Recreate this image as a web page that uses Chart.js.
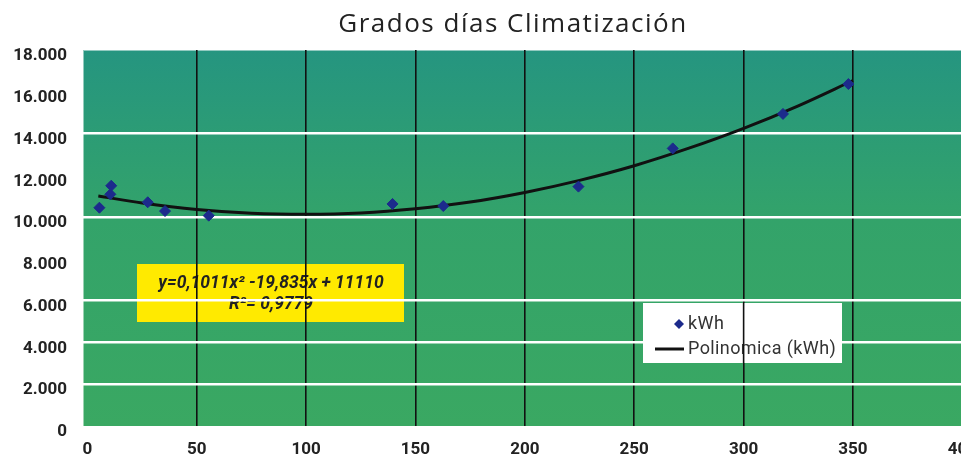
<!DOCTYPE html>
<html>
<head>
<meta charset="utf-8">
<script src="https://cdn.jsdelivr.net/npm/chart.js@4.4.1/dist/chart.umd.min.js"></script>
<style>
  html, body { margin: 0; padding: 0; background: #fff; overflow: hidden; }
  #wrap { width: 991px; height: 456px; }
</style>
</head>
<body>
<div id="wrap"><canvas id="gradosChart" width="991" height="456"></canvas></div>
<script>
// Puntos medidos (grados día vs kWh)
const kwhX = [5.5, 10.5, 10.9, 27.6, 35.5, 55.5, 139.5, 162.7, 224.5, 267.6, 318, 347.9];
const kwhY = [10450, 11090, 11500, 10710, 10290, 10070, 10630, 10530, 11460, 13290, 14940, 16370];

// Línea de tendencia polinómica
const trendX = [5, 25, 50, 75, 100, 125, 150, 175, 200, 225, 250, 275, 300, 325, 350];
const trendY = [11010, 10680, 10370, 10190, 10140, 10200, 10400, 10720, 11180, 11760, 12460, 13300, 14250, 15330, 16540];

// Marcas de los ejes
const xTicks = [0, 50, 100, 150, 200, 250, 300, 350, 400];
// Líneas horizontales blancas visibles
const whiteGridValues = [2000, 4000, 6000, 10000, 14000];

const titleText = 'Grados días Climatización';
const equationLines = ['y=0,1011x² -19,835x + 11110', 'R²= 0,9779'];
const legendLabels = ['kWh', 'Polinomica (kWh)'];

const fmt = v => v.toLocaleString('de-DE');
const labelFont = 'bold 17px Roboto';
const legendBox = { x: 643, y: 303, w: 199, h: 60 };

// Fondo degradado y recuadro amarillo (debajo de la cuadrícula)
const backgroundPlugin = {
    id: 'backgroundPlugin',
    beforeDraw(chart) {
        const { ctx, chartArea: a } = chart;
        ctx.save();
        const g = ctx.createLinearGradient(0, a.top, 0, a.bottom);
        g.addColorStop(0, '#259580');
        g.addColorStop(0.45, '#33a36a');
        g.addColorStop(1, '#3aa862');
        ctx.fillStyle = g;
        ctx.fillRect(a.left, a.top, a.right - a.left, a.bottom - a.top);
        ctx.strokeStyle = 'rgba(255,255,255,0.5)';
        ctx.lineWidth = 1;
        ctx.strokeRect(a.left + 0.5, a.top + 0.5, a.right - a.left, a.bottom - a.top);

        // Ecuación
        ctx.fillStyle = '#ffea00';
        ctx.fillRect(137, 264, 267, 58);
        ctx.fillStyle = '#222';
        ctx.font = 'italic bold 17.5px Roboto';
        ctx.textAlign = 'center';
        ctx.textBaseline = 'middle';
        ctx.fillText(equationLines[0], 271, 284);
        ctx.fillText(equationLines[1], 271, 305);
        ctx.restore();
    },
    // Leyenda: encima de las líneas blancas, debajo de las verticales negras
    beforeDatasetsDraw(chart) {
        const { ctx } = chart;
        const b = legendBox;
        ctx.save();
        ctx.fillStyle = '#fff';
        ctx.fillRect(b.x, b.y, b.w, b.h);
        ctx.fillStyle = '#1c2a8c';
        ctx.beginPath();
        ctx.moveTo(679, 319); ctx.lineTo(684, 324); ctx.lineTo(679, 329); ctx.lineTo(674, 324);
        ctx.closePath();
        ctx.fill();
        ctx.strokeStyle = '#111';
        ctx.lineWidth = 3;
        ctx.beginPath();
        ctx.moveTo(655, 349); ctx.lineTo(684, 349);
        ctx.stroke();
        ctx.fillStyle = '#333';
        ctx.font = '18px Roboto';
        ctx.letterSpacing = '0.4px';
        ctx.textAlign = 'left';
        ctx.textBaseline = 'middle';
        ctx.fillText(legendLabels[0], 688, 324);
        ctx.fillText(legendLabels[1], 688, 349);
        // rejilla vertical por encima de la leyenda
        const xs = chart.scales.x;
        ctx.strokeStyle = '#111';
        ctx.lineWidth = 1.6;
        xs.ticks.forEach(t => {
            const px = xs.getPixelForValue(t.value);
            if (t.value > 0 && px > b.x && px < b.x + b.w) {
                ctx.beginPath();
                ctx.moveTo(px, b.y);
                ctx.lineTo(px, b.y + b.h);
                ctx.stroke();
            }
        });
        ctx.restore();
    },
    afterDraw(chart) {
        const { ctx } = chart;
        const ys = chart.scales.y;
        ctx.save();
        // Etiquetas del eje Y (algo por debajo de cada línea, como en el original)
        ctx.fillStyle = '#222';
        ctx.font = labelFont;
        ctx.textAlign = 'right';
        ctx.textBaseline = 'middle';
        ys.ticks.forEach(t => {
            ctx.fillText(fmt(t.value), 67, ys.getPixelForValue(t.value) + 6);
        });

        // Título
        ctx.font = '26px "Open Sans"';
        ctx.letterSpacing = '1.5px';
        ctx.textAlign = 'center';
        ctx.fillText(titleText, 513, 25);
        ctx.restore();
    }
};

new Chart(document.getElementById('gradosChart'), {
    type: 'scatter',
    data: {
        datasets: [{
            label: legendLabels[0],
            data: kwhX.map((x, i) => ({ x: x, y: kwhY[i] })),
            backgroundColor: '#1c2a8c',
            borderColor: '#1c2a8c',
            pointStyle: 'rectRot',
            pointRadius: 5.5,
            pointHoverRadius: 5.5
        }, {
            label: legendLabels[1],
            type: 'line',
            data: trendX.map((x, i) => ({ x: x, y: trendY[i] })),
            borderColor: '#111',
            borderWidth: 3,
            pointRadius: 0,
            cubicInterpolationMode: 'monotone',
            fill: false
        }]
    },
    options: {
        responsive: false,
        animation: false,
        layout: { padding: { top: 50, left: 0, right: 0, bottom: 0 } },
        plugins: {
            legend: { display: false },
            title: { display: false },
            tooltip: { enabled: false }
        },
        scales: {
            x: {
                type: 'linear',
                min: -2,
                max: 400,
                border: { display: false },
                afterFit(scale) { scale.height = 30; },
                afterBuildTicks(scale) { scale.ticks = xTicks.map(v => ({ value: v })); },
                grid: {
                    drawTicks: false,
                    lineWidth: 1.6,
                    color: ctx => (ctx.tick && ctx.tick.value > 0 && ctx.tick.value < 400) ? '#111' : 'transparent'
                },
                ticks: {
                    padding: 14,
                    color: '#222',
                    font: { family: 'Roboto', size: 17, weight: 'bold' },
                    callback: v => String(v)
                }
            },
            y: {
                min: 0,
                max: 18000,
                border: { display: false },
                afterFit(scale) { scale.width = 83; },
                grid: {
                    drawTicks: false,
                    lineWidth: 2.5,
                    color: ctx => (ctx.tick && whiteGridValues.includes(ctx.tick.value)) ? '#ffffff' : 'transparent'
                },
                ticks: {
                    stepSize: 2000,
                    display: false
                }
            }
        }
    },
    plugins: [backgroundPlugin]
});
</script>
</body>
</html>
